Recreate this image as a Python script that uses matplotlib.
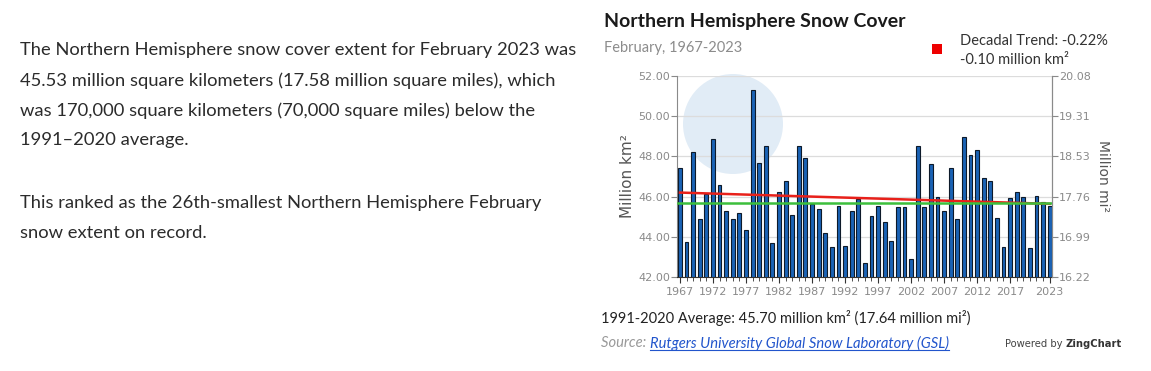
import matplotlib
matplotlib.use("Agg")
import matplotlib.pyplot as plt
from matplotlib.patches import Ellipse, Rectangle
import numpy as np

# ---------------- data ----------------
years = list(range(1967, 2024))
extent_km2 = [
    47.40, 43.72, 48.20, 44.90, 46.15, 48.85, 46.60, 45.30, 44.90, 45.20,
    44.35, 51.30, 47.65, 48.50, 43.70, 46.25, 46.80, 45.10, 48.50, 47.90,
    45.65, 45.40, 44.20, 43.50, 45.55, 43.53, 45.27, 45.90, 42.68, 45.02,
    45.55, 44.76, 43.81, 45.50, 45.46, 42.91, 48.50, 45.46, 47.60, 46.00,
    45.26, 47.40, 44.90, 48.99, 48.05, 48.30, 46.95, 46.80, 44.96, 43.50,
    45.95, 46.25, 46.00, 43.46, 46.05, 45.75, 45.53,
]
average_km2 = 45.70
trend_years = [1967, 2023]
trend_km2 = [46.20, 45.64]
xtick_years = [1967, 1972, 1977, 1982, 1987, 1992, 1997, 2002, 2007, 2012, 2017, 2023]
left_ticks = [42.00, 44.00, 46.00, 48.00, 50.00, 52.00]
right_tick_labels = ["16.22", "16.99", "17.76", "18.53", "19.31", "20.08"]

body_lines = [
    "The Northern Hemisphere snow cover extent for February 2023 was",
    "45.53 million square kilometers (17.58 million square miles), which",
    "was 170,000 square kilometers (70,000 square miles) below the",
    "1991\u20132020 average.",
    "",
    "This ranked as the 26th-smallest Northern Hemisphere February",
    "snow extent on record.",
]

# ---------------- figure ----------------
W, H = 1151, 371
DPI = 100
fig = plt.figure(figsize=(W / DPI, H / DPI), dpi=DPI)
fig.patch.set_facecolor("white")

def fx(px):
    return px / W

def fy(py):
    return 1 - py / H

TEXT_FONT = ["Lato", "DejaVu Sans"]
TICK_FONT = ["DejaVu Sans"]

# left paragraph
line_y = [50.5, 80.5, 110.5, 140.5, None, 203, 233]
body_size = 13.2
for txt, yy in zip(body_lines, line_y):
    if yy is None or not txt:
        continue
    fig.text(fx(20), fy(yy), txt, fontsize=body_size, family=TEXT_FONT,
             color="#2b2b2b", va="center", ha="left")

# title etc
fig.text(fx(604), fy(21), "Northern Hemisphere Snow Cover", fontsize=14.0,
         family=TEXT_FONT, weight="bold", color="#1a1a1a", va="center")
fig.text(fx(604), fy(48), "February, 1967-2023", fontsize=10.5,
         family=TEXT_FONT, color="#8c8c8c", va="center")

# legend
fig.patches.append(Rectangle((fx(932), fy(54)), 10 / W, 10 / H,
                             transform=fig.transFigure, facecolor="#ee0000",
                             edgecolor="none", figure=fig))
fig.text(fx(960), fy(41), "Decadal Trend: -0.22%", fontsize=10.5,
         family=TEXT_FONT, color="#333333", va="center")
fig.text(fx(960), fy(60), "-0.10 million km\u00b2", fontsize=10.5,
         family=TEXT_FONT, color="#333333", va="center")

# axes
ax_left, ax_right = 677, 1052
ax_top, ax_bot = 76, 277
ax = fig.add_axes([fx(ax_left), fy(ax_bot), (ax_right - ax_left) / W,
                   (ax_bot - ax_top) / H])
ax.set_facecolor("none")

# NOAA-like pale watermark circle (behind grid and bars)
ax.add_patch(Ellipse((fx(733), fy(124)), 100 / W, 100 / H,
                     transform=fig.transFigure, facecolor="#e1ecf6",
                     edgecolor="none", zorder=0.2, clip_on=False))

ax.bar(years, extent_km2, width=0.58, color="#1a63b5", edgecolor="#0d1a2a",
       linewidth=0.8, zorder=3, align="center")
ax.plot(trend_years, trend_km2, color="#e8201a", linewidth=1.8, zorder=4)
ax.plot([years[0] - 0.35, years[-1] + 0.35], [average_km2, average_km2],
        color="#3cbf3c", linewidth=1.8, zorder=5)

ax.set_xlim(1966.55, 2023.35)
ax.set_ylim(42, 52)
ax.set_yticks(left_ticks)
ax.set_yticklabels([f"{v:.2f}" for v in left_ticks])
ax.set_xticks(xtick_years)
ax.set_xticks(years, minor=True)
ax.set_xticklabels([str(y) for y in xtick_years])
ax.grid(axis="y", color="#dcdcdc", linewidth=0.9, zorder=1)
ax.set_axisbelow(True)

ax.spines["top"].set_visible(False)
ax.spines["left"].set_color("#8a8a8a")
ax.spines["right"].set_color("#8a8a8a")
ax.spines["bottom"].set_color("#333333")
ax.tick_params(axis="y", length=4, color="#8a8a8a", labelsize=8,
               labelcolor="#8a8a8a", pad=1)
ax.tick_params(axis="x", which="major", length=4, color="#333333",
               labelsize=8, labelcolor="#8a8a8a", pad=3)
ax.tick_params(axis="x", which="minor", length=3, color="#333333")
for lab in ax.get_xticklabels() + ax.get_yticklabels():
    lab.set_family(TICK_FONT)

ax.set_ylabel("Million km\u00b2", fontsize=11, color="#555555",
              family=TICK_FONT, labelpad=2)

ax2 = ax.twinx()
ax2.set_ylim(42, 52)
ax2.set_yticks(left_ticks)
ax2.set_yticklabels(right_tick_labels)
for s in ["top", "left", "bottom"]:
    ax2.spines[s].set_visible(False)
ax2.spines["right"].set_color("#8a8a8a")
ax2.tick_params(axis="y", length=4, color="#8a8a8a", labelsize=8,
                labelcolor="#8a8a8a", pad=1)
for lab in ax2.get_yticklabels():
    lab.set_family(TICK_FONT)
ax2.set_ylabel("Million mi\u00b2", fontsize=10, color="#555555",
               family=TICK_FONT, rotation=270, labelpad=14)

# footer
fig.text(fx(601), fy(318), "1991-2020 Average: 45.70 million km\u00b2 (17.64 million mi\u00b2)",
         fontsize=10.5, family=TEXT_FONT, color="#222222", va="center")
src = fig.text(fx(601), fy(343), "Source: ", fontsize=10.6, family=TEXT_FONT,
               style="italic", color="#999999", va="center")
fig.canvas.draw()
r = fig.canvas.get_renderer()
bb = src.get_window_extent(r)
link = fig.text(bb.x1 / W, fy(343), "Rutgers University Global Snow Laboratory (GSL)",
                fontsize=10.6, family=TEXT_FONT, style="italic", color="#2255cc",
                va="center")
fig.canvas.draw()
lb = link.get_window_extent(r)
fig.add_artist(plt.Line2D([lb.x0 / W, lb.x1 / W], [(lb.y0 + 1) / H] * 2,
                          color="#2255cc", linewidth=0.8,
                          transform=fig.transFigure))
pw = fig.text(fx(1005), fy(344), "Powered by ", fontsize=7.2, family=TICK_FONT,
              color="#444444", va="center")
fig.canvas.draw()
pb = pw.get_window_extent(r)
fig.text(pb.x1 / W, fy(344), "ZingChart", fontsize=7.2, family=TICK_FONT,
         color="#333333", weight="bold", va="center")

fig.savefig("out.png", dpi=DPI, facecolor="white")
